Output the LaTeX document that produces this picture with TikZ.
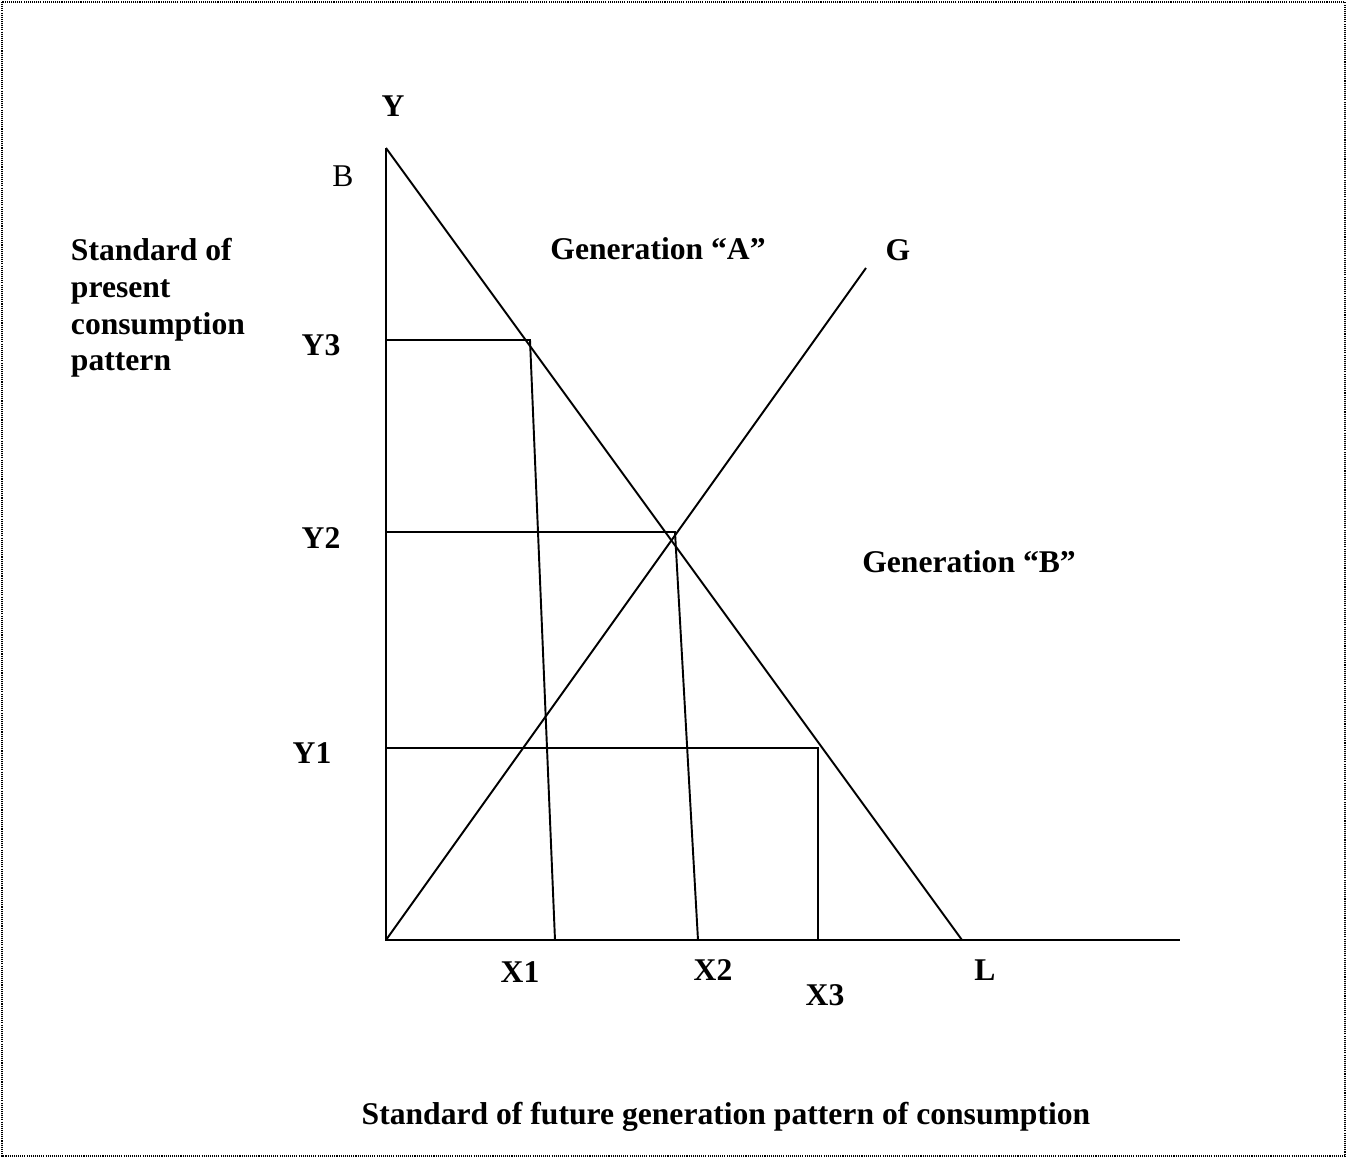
\documentclass[tikz,border=0pt]{standalone}
\usepackage{fontspec}
\setmainfont{Liberation Serif}
\usetikzlibrary{positioning}

\begin{document}
\begin{tikzpicture}[x=0.02cm, y=-0.02cm, line width=1.1pt, every node/.style={font=\fontsize{18}{21}\selectfont\bfseries, inner sep=0pt}, lbl/.style={anchor=base}, frame/.style={line width=0.6pt, dash pattern=on 0.6pt off 0.6pt}]
\useasboundingbox (0,0) rectangle (1347,1159);
\draw[frame] (2,2) rectangle (1345,1156);
% axes and curves
\coordinate (O) at (386,940);
\coordinate (B) at (386,148);
\coordinate (xend) at (1180,940);
\coordinate (L) at (962,940);
\coordinate (G) at (866,268);
\coordinate (y3) at (386,340); \coordinate (p3) at (530,340); \coordinate (x1) at (555,940);
\coordinate (y2) at (386,532); \coordinate (p2) at (675,532); \coordinate (x2) at (698,940);
\coordinate (y1) at (386,748); \coordinate (p1) at (818,748); \coordinate (x3) at (818,940);
\draw (B) -- (O) -- (xend);
\draw (B) -- (L);
\draw (O) -- (G);
\draw (y3) -- (p3) -- (x1);
\draw (y2) -- (p2) -- (x2);
\draw (y1) -- (p1) -- (x3);
% labels
\node[lbl] (ly) at (393,117) {Y};
\node[lbl, font=\fontsize{18}{21}\selectfont] (lb) at (343,187) {B};
\node[anchor=north west, align=left] (lyax) at (70,237) {Standard of\\present\\consumption\\pattern};
\node[lbl] (ga) at (658,259) {Generation “A”};
\node[lbl] (lg) at (898,260) {G};
\node[lbl] (ly3) at (321,356) {Y3};
\node[lbl] (ly2) at (321,548) {Y2};
\node[lbl] (ly1) at (312,763) {Y1};
\node[lbl] (gb) at (969,572) {Generation “B”};
\node[lbl] (lx1) at (520,982) {X1};
\node[lbl] (lx2) at (713,980) {X2};
\node[lbl] (lx3) at (825,1005) {X3};
\node[lbl] (ll) at (985,980) {L};
\node[lbl] (lxax) at (726,1124) {Standard of future generation pattern of consumption};
\end{tikzpicture}
\end{document}
